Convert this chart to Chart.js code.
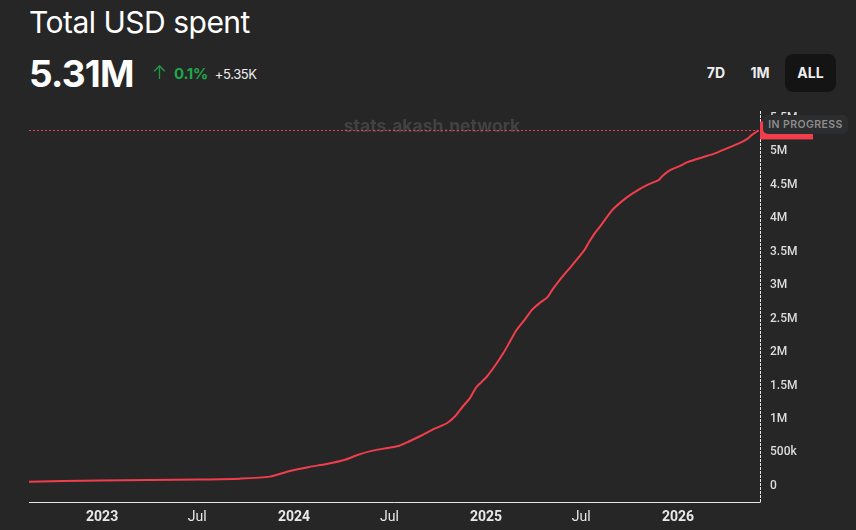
<!DOCTYPE html>
<html>
<head>
<meta charset="utf-8">
<script src="https://cdn.jsdelivr.net/npm/chart.js@4.4.1/dist/chart.umd.min.js"></script>
<style>
html,body{margin:0;padding:0;background:#262626;}
body{width:856px;height:530px;position:relative;overflow:hidden;font-family:Inter,"Noto Sans",sans-serif;color:#fff;}
#title{position:absolute;left:29px;top:4px;font-size:30px;font-weight:400;letter-spacing:-0.5px;}
#value{position:absolute;left:29px;top:51px;font-size:37px;font-weight:700;letter-spacing:-0.8px;}
#change{position:absolute;left:152px;top:62px;font-size:15px;white-space:nowrap;}
#change .up{color:#1fa84a;font-weight:700;letter-spacing:-0.3px;}
#change .arr{color:#1fa84a;font-size:18px;margin-right:7px;font-weight:300;}
#change .abs{color:#eee;font-size:13px;margin-left:7px;letter-spacing:-0.4px;}
.btn{position:absolute;top:54px;height:38px;line-height:38px;font-size:14px;font-weight:700;text-align:center;color:#eee;}
#b7{left:703px;width:26px;}
#b1{left:747px;width:26px;}
#ball{left:785px;width:51px;background:#141414;border-radius:8px;}
#chartBox{position:absolute;left:0;top:102px;width:856px;height:428px;}
#prog{position:absolute;left:763px;top:115px;width:85px;height:19px;line-height:19px;background:#2c2d2f;border-radius:5px;font-size:10.5px;font-weight:600;color:#8c8c8c;text-align:center;letter-spacing:0.4px;}
</style>
</head>
<body>
<div id="title">Total USD spent</div>
<div id="value">5.31M</div>
<div id="change"><span class="arr">↑</span><span class="up">0.1%</span><span class="abs">+5.35K</span></div>
<div class="btn" id="b7">7D</div>
<div class="btn" id="b1">1M</div>
<div class="btn" id="ball">ALL</div>
<div id="chartBox"><canvas id="mainChart" width="856" height="428"></canvas></div>
<div id="prog">IN PROGRESS</div>
<script>
// cumulative spend
const dates=[
"2022-08-14","2022-12-27","2023-04-02","2023-07-05","2023-09-20","2023-11-16","2023-12-24",
"2024-01-30","2024-03-03","2024-04-09","2024-05-01","2024-05-30","2024-06-28","2024-07-20",
"2024-08-07","2024-08-29","2024-09-24","2024-10-19","2024-11-03","2024-11-17","2024-12-02",
"2024-12-13","2025-01-02","2025-01-19","2025-02-03","2025-02-15","2025-02-28","2025-03-15",
"2025-03-29","2025-04-13","2025-04-28","2025-05-08","2025-05-21","2025-06-14","2025-07-07",
"2025-07-16","2025-07-27","2025-08-08","2025-08-29","2025-09-24","2025-10-20","2025-11-07",
"2025-11-25","2025-12-02","2025-12-17","2026-01-04","2026-01-19","2026-02-17","2026-03-11",
"2026-04-05","2026-04-28","2026-05-12","2026-05-21","2026-06-03"
]
const usdSpent=[
64000,82000,90000,97000,109000,139000,224000,
284000,328000,396000,463000,527000,567000,601000,
664000,746000,851000,940000,1040000,1179000,1320000,
1470000,1627000,1806000,1985000,2149000,2328000,2478000,
2627000,2731000,2821000,2940000,3075000,3299000,3522000,
3642000,3776000,3896000,4119000,4299000,4433000,4507000,
4567000,4627000,4716000,4776000,4836000,4910000,4963000,
5045000,5119000,5179000,5239000,5310000
]

const xTickDates=["2023-01-01","2023-07-01","2024-01-01","2024-07-01","2025-01-01","2025-07-01","2026-01-01"]
const xTickLabels=["2023","Jul","2024","Jul","2025","Jul","2026"]

const yTickValues=[0,500000,1000000,1500000,2000000,2500000,3000000,3500000,4000000,4500000,5000000,5500000]
const yTickLabels=["0","500k","1M","1.5M","2M","2.5M","3M","3.5M","4M","4.5M","5M","5.5M"]

const xMin="2022-08-15"
const xMax="2026-06-06"
const yMin=-240000
const yMax=5600000
const lastLabel="5.31M"

const red="#f23d4d"

function toYear(s){
const d=new Date(s+"T00:00:00Z")
const y=d.getUTCFullYear()
const start=Date.UTC(y,0,1)
const end=Date.UTC(y+1,0,1)
return y+(d-start)/(end-start)
}

const points=dates.map((d,i)=>({x:toYear(d),y:usdSpent[i]}))

const decor={
id:"decor",
beforeDatasetsDraw(chart){
const c=chart.ctx, a=chart.chartArea
c.save()
c.font="bold 17.5px Inter, 'Noto Sans', sans-serif"
c.fillStyle="#424242"
c.textAlign="center"
c.textBaseline="middle"
c.fillText("stats.akash.network",432,127-102)
// dashed last value line
const yy=Math.round(chart.scales.y.getPixelForValue(usdSpent[usdSpent.length-1]))+0.5
c.strokeStyle=red
c.lineWidth=1
c.setLineDash([2,2])
c.beginPath()
c.moveTo(a.left,yy)
c.lineTo(a.right,yy)
c.stroke()
c.restore()
},
afterDraw(chart){
const c=chart.ctx, a=chart.chartArea
c.save()
c.strokeStyle="#e6e6e6"
c.lineWidth=1
c.beginPath()
c.moveTo(a.left,Math.round(a.bottom)+0.5)
c.lineTo(Math.round(a.right)+0.5,Math.round(a.bottom)+0.5)
c.stroke()
c.setLineDash([3,1])
c.beginPath()
c.moveTo(Math.round(a.right)+0.5,a.top)
c.lineTo(Math.round(a.right)+0.5,a.bottom)
c.stroke()
c.setLineDash([])
// last value label on axis
const yy=chart.scales.y.getPixelForValue(usdSpent[usdSpent.length-1])
c.fillStyle=red
c.fillRect(a.right,yy-9,53,18)
c.fillStyle="#fff"
c.font="bold 11px Roboto, sans-serif"
c.textBaseline="middle"
c.fillText(lastLabel,a.right+9,yy)
c.restore()
}
}

const ctx=document.getElementById("mainChart")

new Chart(ctx,{
type:"line",
data:{
datasets:[{
data:points,
borderColor:red,
borderWidth:2,
pointRadius:0,
tension:0.25,
fill:false
}]
},
options:{
responsive:false,
animation:false,
events:[],
layout:{padding:{left:29,top:9,right:0,bottom:0}},
plugins:{legend:{display:false},tooltip:{enabled:false}},
scales:{
x:{
type:"linear",
min:toYear(xMin),
max:toYear(xMax),
grid:{display:false,drawTicks:false},
border:{display:false},
afterBuildTicks(scale){
scale.ticks=xTickDates.map(d=>({value:toYear(d)}))
},
afterFit(scale){scale.height=28},
ticks:{
autoSkip:false,
maxRotation:0,
padding:7,
color:"#e8e8e8",
font(c){
const i=c.index
return {family:"Roboto",size:14,weight:xTickLabels[i]==="Jul"?"normal":"bold"}
},
callback(v,i){return xTickLabels[i]}
}
},
y:{
position:"right",
min:yMin,
max:yMax,
grid:{display:false,drawTicks:false},
border:{display:false},
afterBuildTicks(scale){
scale.ticks=yTickValues.map(v=>({value:v}))
},
afterFit(scale){
scale.width=96
scale.paddingTop=0
scale.paddingBottom=0
},
ticks:{
padding:10,
crossAlign:"near",
color:"#dcdcdc",
font:{family:"Roboto",size:12,weight:"500"},
callback(v,i){return yTickLabels[i]}
}
}
}
},
plugins:[decor]
})
</script>
</body>
</html>
